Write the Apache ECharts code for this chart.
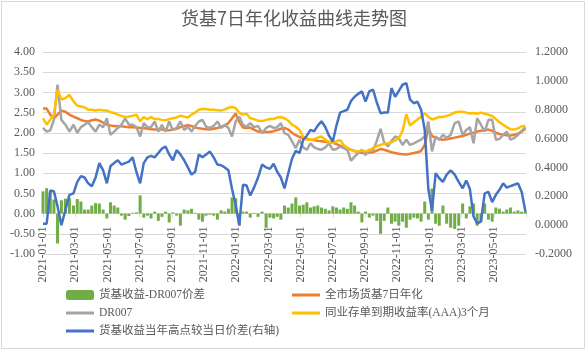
<!DOCTYPE html>
<html>
<head>
<meta charset="utf-8">
<script src="https://cdn.jsdelivr.net/npm/echarts@6/dist/echarts.min.js"></script>
<style>
html, body { margin: 0; padding: 0; background: #fff; }
#chart { width: 588px; height: 352px; }
</style>
</head>
<body>
<div id="chart"></div>
<script>
// weekly observations (Fridays) from 2021-01-01 to 2023-06-30
var startDate = '2021-01-01';
var weekCount = 131;

// 货基收益-DR007价差 (bars, left axis)
var spread = [
  0.55, 0.63, 0.55, 0.35, -0.74, 0.33, 0.37, 0.38, 0.20, 0.36,
  0.30, 0.10, 0.10, 0.20, 0.26, 0.25, 0.10, -0.12, 0.28, 0.20,
  0.15, -0.05, -0.15, -0.06, 0.02, 0.03, 0.45, -0.10, -0.05, -0.12,
  0.05, -0.18, -0.08, 0.05, -0.22, 0.03, -0.05, -0.30, 0.10, 0.08,
  0.12, 0.02, -0.15, -0.20, -0.05, -0.03, -0.05, -0.15, 0.08, 0.05,
  0.12, 0.40, 0.38, -0.30, 0.05, 0.05, -0.10, 0.02, -0.08, 0.05,
  -0.35, -0.10, -0.12, -0.08, -0.15, 0.20, 0.15, 0.25, 0.40, 0.20,
  0.22, 0.28, 0.15, 0.18, 0.20, 0.15, 0.12, 0.08, 0.18, 0.15,
  0.10, 0.15, 0.12, 0.28, 0.20, 0.05, -0.22, 0.05, -0.10, -0.05,
  -0.18, -0.50, -0.18, 0.15, -0.25, -0.20, -0.30, -0.20, -0.35, -0.15,
  -0.10, -0.12, -0.20, 0.30, -0.15, 0.62, -0.25, -0.30, 0.20, -0.25,
  -0.35, -0.38, -0.30, 0.25, -0.12, 0.18, 0.25, -0.30, -0.20, 0.25,
  -0.15, -0.20, 0.15, 0.12, 0.05, 0.10, 0.15, 0.05, 0.08, 0.05,
  0.05
];

// 全市场货基7日年化
var mmf7d = [
  2.60, 2.60, 2.45, 2.36, 2.45, 2.55, 2.52, 2.45, 2.40, 2.36,
  2.32, 2.29, 2.28, 2.31, 2.33, 2.30, 2.25, 2.20, 2.18, 2.17,
  2.16, 2.16, 2.15, 2.14, 2.14, 2.13, 2.12, 2.12, 2.10, 2.09,
  2.08, 2.08, 2.08, 2.07, 2.06, 2.08, 2.10, 2.14, 2.17, 2.19,
  2.17, 2.13, 2.11, 2.10, 2.09, 2.08, 2.10, 2.12, 2.15, 2.18,
  2.24, 2.36, 2.48, 2.27, 2.13, 2.12, 2.13, 2.08, 2.03, 2.02,
  2.02, 2.02, 2.04, 2.07, 2.10, 2.12, 2.08, 2.00, 1.94, 1.90,
  1.86, 1.85, 1.83, 1.82, 1.80, 1.79, 1.78, 1.77, 1.75, 1.72,
  1.68, 1.65, 1.62, 1.58, 1.55, 1.52, 1.50, 1.50, 1.51, 1.52,
  1.56, 1.60, 1.58, 1.55, 1.52, 1.50, 1.48, 1.47, 1.46, 1.48,
  1.50, 1.52, 1.55, 1.70, 2.12, 1.92, 1.88, 1.84, 1.83, 1.84,
  1.86, 1.88, 1.90, 1.92, 1.95, 1.98, 2.00, 2.03, 2.05, 2.06,
  2.08, 2.05, 2.00, 1.97, 1.95, 1.94, 1.93, 1.95, 1.98, 2.03,
  2.10
];

// DR007
var dr007 = [
  2.12, 2.03, 2.06, 2.32, 3.19, 2.32, 2.20, 2.03, 2.20, 2.00,
  2.14, 2.20, 2.26, 2.14, 2.03, 2.20, 2.14, 2.36, 1.95, 2.03,
  2.12, 2.20, 2.36, 2.20, 2.20, 2.14, 1.91, 2.24, 2.14, 2.14,
  2.28, 2.03, 2.20, 2.03, 2.28, 2.07, 2.12, 2.28, 2.07, 2.15,
  2.03, 2.17, 2.28, 2.32, 2.15, 2.12, 2.17, 2.28, 2.12, 2.20,
  2.12, 1.91, 2.28, 2.40, 2.20, 2.15, 2.24, 2.14, 2.17, 1.99,
  2.12, 2.17, 2.12, 2.14, 2.24, 1.99, 1.95, 1.79, 1.62, 1.83,
  1.64, 1.58, 1.74, 1.64, 1.60, 1.58, 1.64, 1.74, 1.58, 1.60,
  1.66, 1.62, 1.58, 1.31, 1.41, 1.50, 1.58, 1.45, 1.58, 1.56,
  1.80, 2.10, 1.76, 1.66, 1.80, 1.91, 1.87, 1.70, 1.83, 1.70,
  1.74, 1.79, 1.83, 1.91, 2.28, 1.54, 1.91, 1.83, 1.95, 1.87,
  1.95, 2.24, 2.28, 1.95, 2.07, 2.14, 1.74, 2.36, 2.20, 2.03,
  2.32, 2.32, 1.83, 1.85, 1.95, 2.03, 1.83, 1.87, 1.95, 2.05,
  2.14
];

// 同业存单到期收益率(AAA)3个月
var ncd3m = [
  2.36, 2.20, 2.32, 2.45, 3.07, 2.82, 2.86, 2.94, 2.78, 2.67,
  2.65, 2.63, 2.57, 2.57, 2.55, 2.57, 2.55, 2.55, 2.51, 2.49,
  2.45, 2.42, 2.39, 2.40, 2.42, 2.45, 2.28, 2.39, 2.34, 2.39,
  2.34, 2.34, 2.32, 2.31, 2.34, 2.36, 2.38, 2.42, 2.40, 2.38,
  2.45, 2.50, 2.57, 2.59, 2.59, 2.57, 2.57, 2.56, 2.55, 2.58,
  2.62, 2.64, 2.61, 2.49, 2.45, 2.47, 2.36, 2.34, 2.30, 2.29,
  2.32, 2.34, 2.34, 2.38, 2.39, 2.36, 2.30, 2.20, 2.15, 2.07,
  1.90, 1.83, 1.83, 1.84, 1.88, 1.91, 1.83, 1.77, 1.75, 1.79,
  1.82, 1.70, 1.63, 1.58, 1.55, 1.54, 1.56, 1.54, 1.57, 1.62,
  1.67, 1.70, 1.73, 1.74, 1.76, 1.81, 1.87, 2.05, 2.46, 2.18,
  2.26, 2.33, 2.40, 2.48, 2.40, 2.33, 2.36, 2.39, 2.39, 2.42,
  2.45, 2.50, 2.52, 2.52, 2.50, 2.48, 2.49, 2.47, 2.50, 2.47,
  2.45, 2.41, 2.34, 2.26, 2.20, 2.14, 2.09, 2.08, 2.11, 2.16,
  2.17
];

// 货基收益当年高点较当日价差 (right axis)
var gapFromHigh = [
  0.01, 0.01, 0.24, 0.235, 0.13, 0.00, 0.105, 0.21, 0.22, 0.30,
  0.34, 0.33, 0.29, 0.27, 0.33, 0.43, 0.38, 0.29, 0.41, 0.43,
  0.45, 0.42, 0.43, 0.44, 0.47, 0.37, 0.29, 0.43, 0.47, 0.48,
  0.47, 0.50, 0.53, 0.545, 0.49, 0.45, 0.52, 0.49, 0.45, 0.40,
  0.35, 0.37, 0.49, 0.47, 0.49, 0.51, 0.47, 0.42, 0.415, 0.40,
  0.38, 0.25, 0.14, 0.00, 0.28, 0.275, 0.205, 0.26, 0.33, 0.42,
  0.40, 0.39, 0.425, 0.37, 0.33, 0.255, 0.36, 0.46, 0.515, 0.50,
  0.59, 0.62, 0.66, 0.65, 0.69, 0.72, 0.68, 0.62, 0.58, 0.69,
  0.78, 0.79, 0.80, 0.86, 0.89, 0.91, 0.927, 0.857, 0.927, 0.94,
  0.85, 0.776, 0.78, 0.78, 0.95, 0.89, 0.93, 0.973, 0.985, 0.87,
  0.845, 0.855, 0.80, 0.66, 0.25, 0.10, 0.36, 0.325, 0.30, 0.35,
  0.38, 0.35, 0.30, 0.255, 0.31, 0.25, 0.06, 0.012, 0.025, 0.22,
  0.23, 0.16, 0.21, 0.245, 0.29, 0.26, 0.27, 0.28, 0.29, 0.23,
  0.093
];

var names = ['货基收益-DR007价差', '全市场货基7日年化', 'DR007',
  '同业存单到期收益率(AAA)3个月', '货基收益当年高点较当日价差(右轴)'];

// x position of each week, in months since 2021-01 (ticks every 2 months)
var baseYear = 2021;
var xPos = [];
(function () {
  var d0 = new Date(startDate + 'T00:00:00');
  for (var i = 0; i < weekCount; i++) {
    var d = new Date(d0.getTime() + i * 7 * 86400000);
    var y = d.getFullYear(), m = d.getMonth(), day = d.getDate();
    var dim = new Date(y, m + 1, 0).getDate();
    xPos.push((y - baseYear) * 12 + m + (day - 1) / dim);
  }
})();

function pts(arr) {
  return arr.map(function (v, i) { return [xPos[i], v]; });
}

var serif = "'Liberation Serif', 'Noto Sans CJK SC', serif";
var txt = '#595959';
var lineIcon = 'path://M0,0L28,0L28,3L0,3Z';

var chart = echarts.init(document.getElementById('chart'));
var option = {
  animation: false,
  backgroundColor: '#fff',
  title: {
    text: '货基7日年化收益曲线走势图',
    left: 'center',
    top: 9,
    padding: 0,
    textStyle: { fontFamily: "'Noto Sans CJK SC', sans-serif", fontSize: 18, fontWeight: 'normal', color: txt }
  },
  graphic: [{
    type: 'rect',
    shape: { x: 1.5, y: 1.5, width: 583, height: 347 },
    style: { fill: 'none', stroke: '#d9d9d9', lineWidth: 1 },
    silent: true
  }],
  legend: [
    {
      data: [
        { name: names[0], icon: 'roundRect' },
        { name: names[2], icon: lineIcon },
        { name: names[4], icon: lineIcon }
      ],
      orient: 'vertical', left: 66, top: 288, padding: 0,
      itemWidth: 28, itemHeight: 10, itemGap: 4,
      textStyle: { fontFamily: serif, fontSize: 11.5, lineHeight: 14, color: txt }
    },
    {
      data: [
        { name: names[1], icon: lineIcon },
        { name: names[3], icon: lineIcon }
      ],
      orient: 'vertical', left: 292, top: 288, padding: 0,
      itemWidth: 28, itemHeight: 10, itemGap: 4,
      textStyle: { fontFamily: serif, fontSize: 11.5, lineHeight: 14, color: txt }
    }
  ],
  grid: { left: 43, right: 62, top: 52, bottom: 98, outerBoundsMode: 'none' },
  xAxis: {
    type: 'value',
    min: 0,
    max: 30,
    interval: 2,
    // axis sits on the zero line of the left axis
    offset: -40.4,
    axisLine: { onZero: false, lineStyle: { color: '#d9d9d9' } },
    axisTick: { show: true, length: 4, lineStyle: { color: '#d9d9d9' } },
    splitLine: { show: false },
    axisLabel: {
      rotate: 90,
      align: 'right',
      verticalAlign: 'middle',
      margin: 13,
      color: txt,
      fontFamily: serif,
      fontSize: 12,
      formatter: function (v) {
        if (v >= 30) return '';
        var y = baseYear + Math.floor(v / 12);
        var m = (v % 12) + 1;
        return y + '-' + (m < 10 ? '0' + m : m) + '-01';
      }
    }
  },
  yAxis: [
    {
      type: 'value',
      min: -1,
      max: 4,
      interval: 0.5,
      axisLine: { show: false, onZero: false },
      axisTick: { show: false },
      splitLine: { lineStyle: { color: '#d9d9d9' } },
      axisLabel: {
        margin: 8, color: txt, fontFamily: serif, fontSize: 12,
        formatter: function (v) { return v.toFixed(2); }
      }
    },
    {
      type: 'value',
      min: -0.2,
      max: 1.2,
      interval: 0.2,
      axisLine: { show: false, onZero: false },
      axisTick: { show: false },
      splitLine: { show: false },
      axisLabel: {
        margin: 9, color: txt, fontFamily: serif, fontSize: 12,
        formatter: function (v) { return v.toFixed(4); }
      }
    }
  ],
  series: [
    {
      name: names[0], type: 'bar', yAxisIndex: 0,
      barWidth: 3,
      itemStyle: { color: '#70AD47' },
      data: pts(spread)
    },
    {
      name: names[1], type: 'line', yAxisIndex: 0, symbol: 'none',
      lineStyle: { width: 2.5, color: '#ED7D31' }, itemStyle: { color: '#ED7D31' },
      data: pts(mmf7d)
    },
    {
      name: names[2], type: 'line', yAxisIndex: 0, symbol: 'none',
      lineStyle: { width: 2.5, color: '#A5A5A5' }, itemStyle: { color: '#A5A5A5' },
      data: pts(dr007)
    },
    {
      name: names[3], type: 'line', yAxisIndex: 0, symbol: 'none',
      lineStyle: { width: 2.5, color: '#FFC000' }, itemStyle: { color: '#FFC000' },
      data: pts(ncd3m)
    },
    {
      name: names[4], type: 'line', yAxisIndex: 1, symbol: 'none',
      lineStyle: { width: 2.5, color: '#4472C4' }, itemStyle: { color: '#4472C4' },
      data: pts(gapFromHigh)
    }
  ]
};
chart.setOption(option);
window.onresize = chart.resize;
</script>
</body>
</html>
